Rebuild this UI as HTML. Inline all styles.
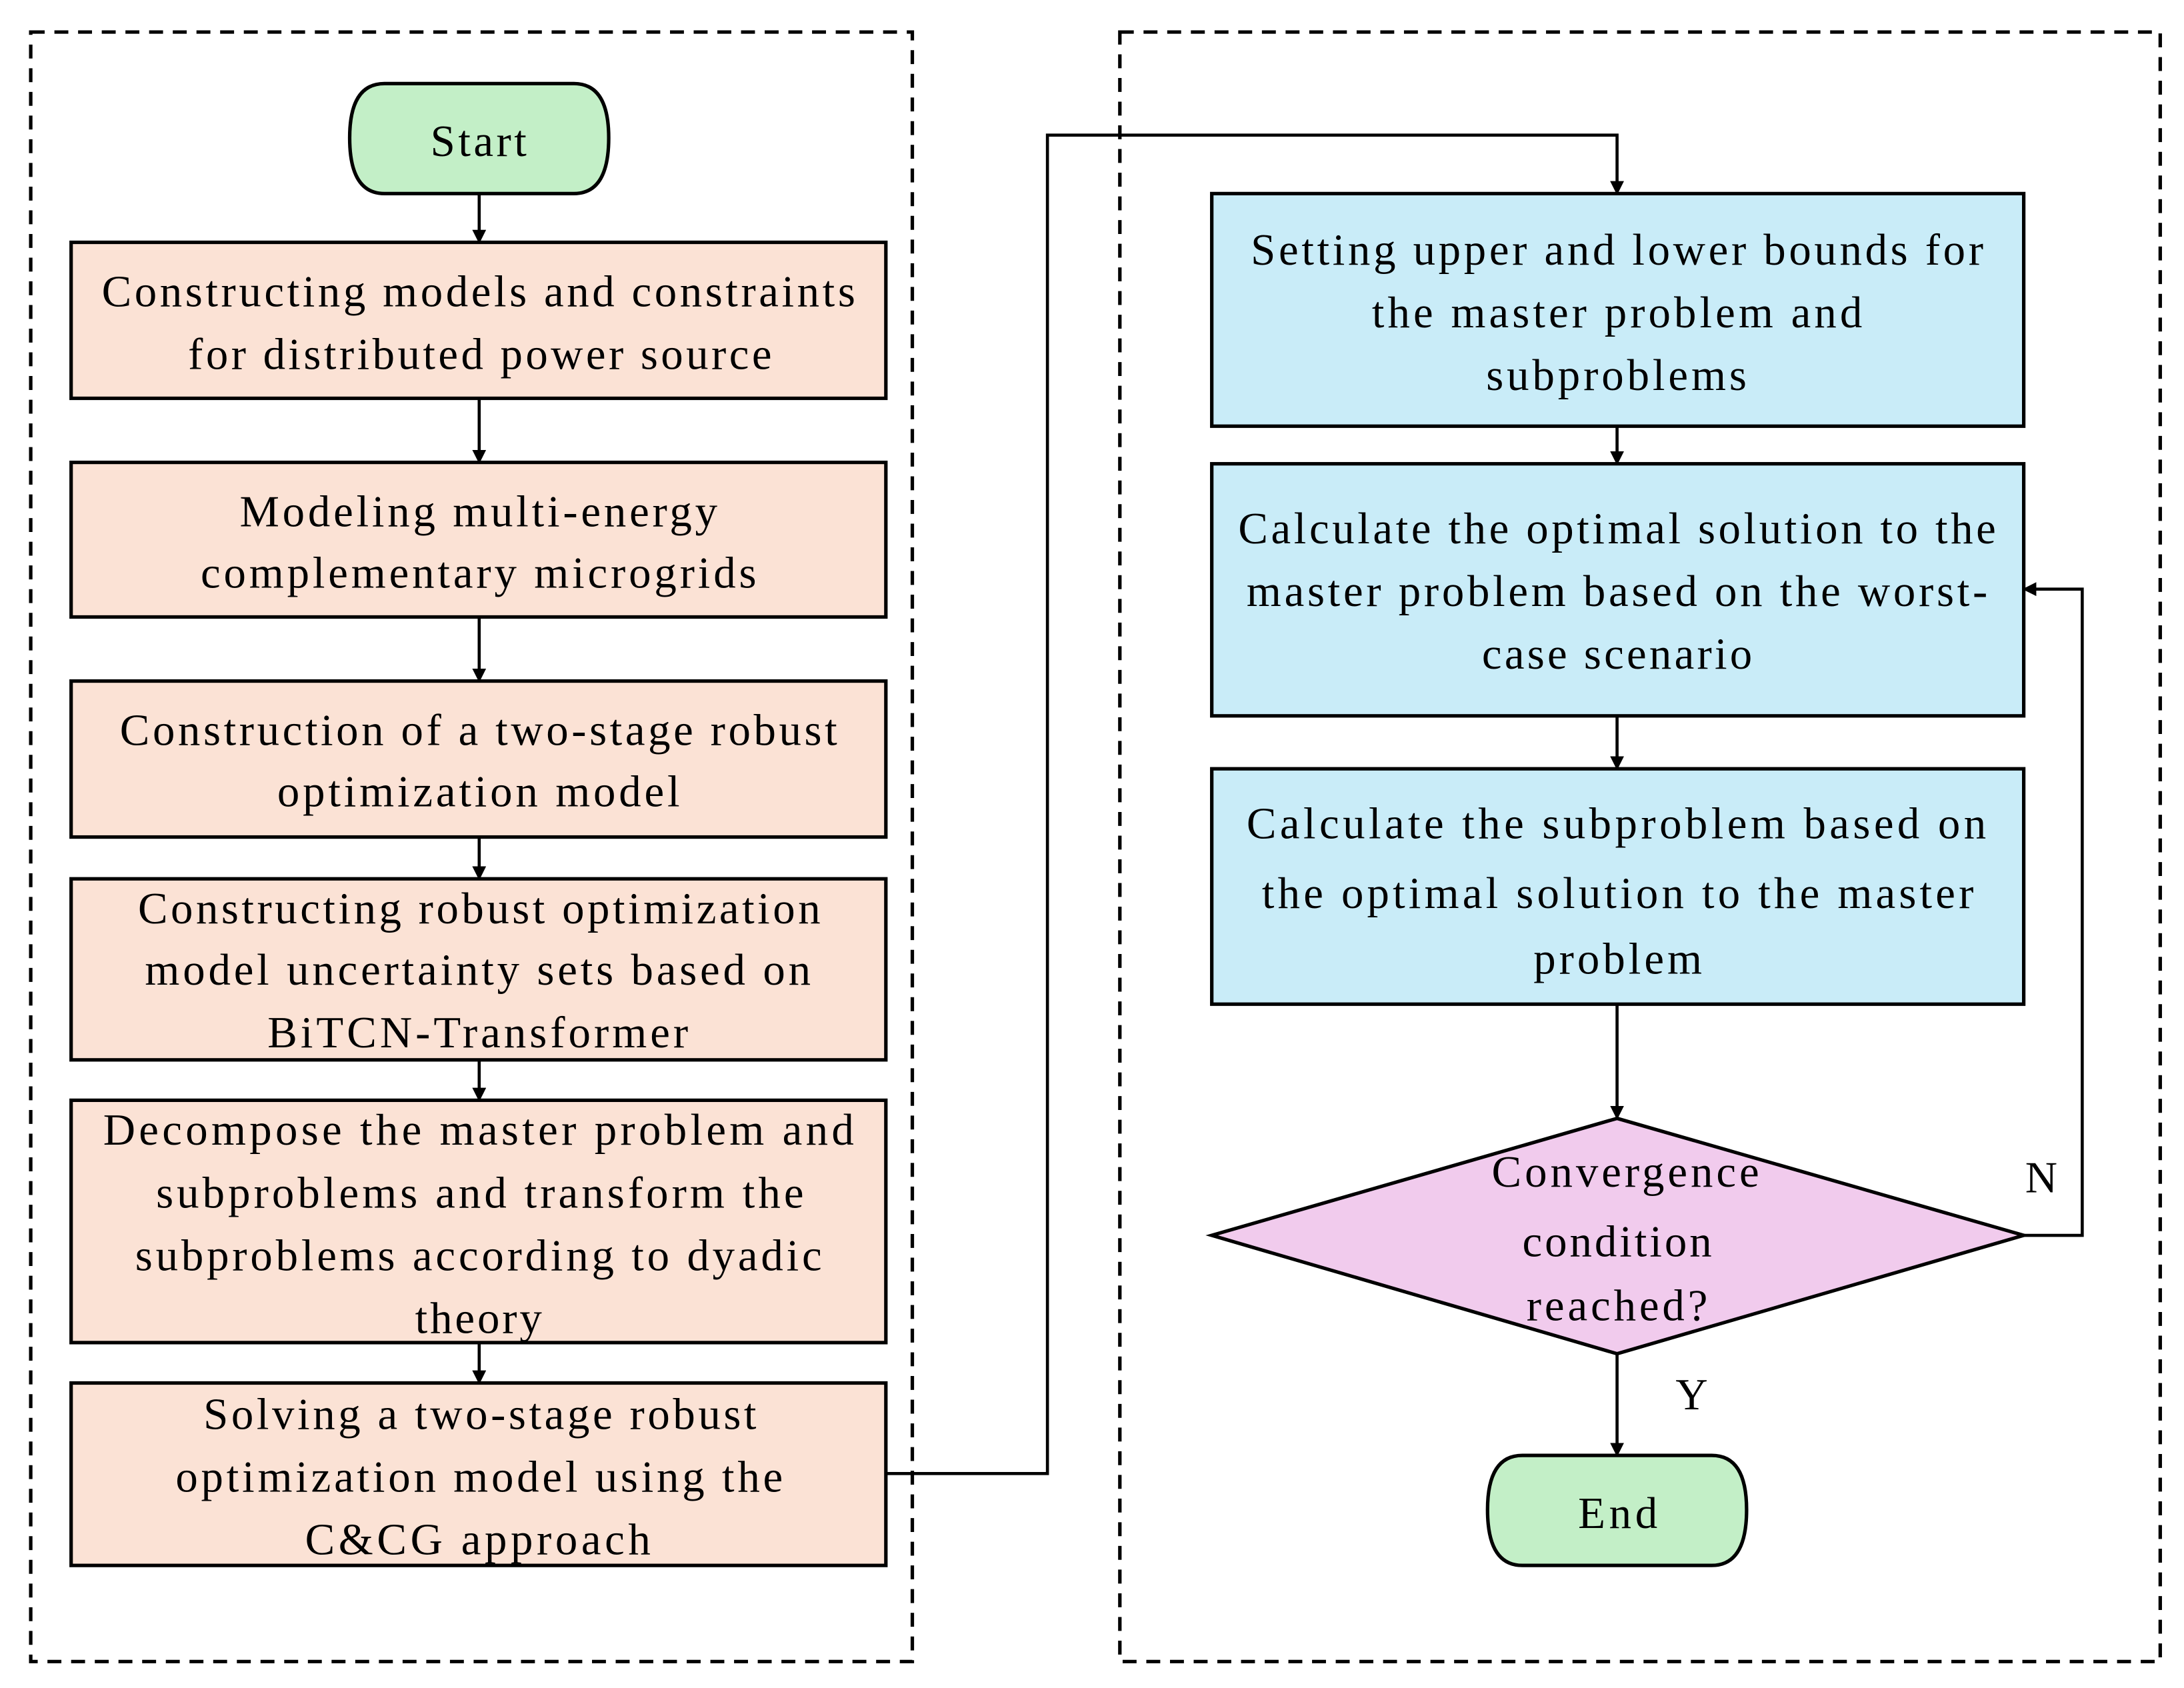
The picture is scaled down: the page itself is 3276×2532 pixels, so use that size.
<!DOCTYPE html>
<html><head><meta charset="utf-8"><style>html,body{margin:0;padding:0;background:#fff}svg{display:block}</style></head>
<body>
<svg width="3276" height="2532" viewBox="0 0 1568 1212" xmlns="http://www.w3.org/2000/svg" font-family="'Liberation Serif', serif" font-size="32">
<defs><marker id="a" markerWidth="10" markerHeight="10" refX="9" refY="5" orient="auto" markerUnits="userSpaceOnUse"><path d="M0,0 L10,5 L0,10 z" fill="#000"/></marker></defs>
<rect x="22" y="23" width="633" height="1170" fill="none" stroke="#000" stroke-width="2.5" stroke-dasharray="10,7"/>
<rect x="804" y="23" width="747" height="1170" fill="none" stroke="#000" stroke-width="2.5" stroke-dasharray="10,7"/>
<g stroke="#000" stroke-width="2.5">
<path d="M276,60 H412 Q437,60 437,99 Q437,139 412,139 H276 Q251,139 251,99 Q251,60 276,60 z" fill="#c3efc7"/>
<path d="M1093,1045 H1229 Q1254,1045 1254,1084 Q1254,1124 1229,1124 H1093 Q1068,1124 1068,1084 Q1068,1045 1093,1045 z" fill="#c3efc7"/>
<g fill="#fbe2d5">
<rect x="51" y="174" width="585" height="112"/>
<rect x="51" y="332" width="585" height="111"/>
<rect x="51" y="489" width="585" height="112"/>
<rect x="51" y="631" width="585" height="130"/>
<rect x="51" y="790" width="585" height="174"/>
<rect x="51" y="993" width="585" height="131"/>
</g>
<g fill="#c9ecf8">
<rect x="870" y="139" width="583" height="167"/>
<rect x="870" y="333" width="583" height="181"/>
<rect x="870" y="552" width="583" height="169"/>
</g>
<path d="M1161,803 L1453,887 L1161,972 L870,887 z" fill="#f1cbed"/>
</g>
<g stroke="#000" stroke-width="2.2" fill="none" marker-end="url(#a)">
<line x1="344" y1="139" x2="344" y2="174"/>
<line x1="344" y1="286" x2="344" y2="332"/>
<line x1="344" y1="443" x2="344" y2="489"/>
<line x1="344" y1="601" x2="344" y2="631"/>
<line x1="344" y1="761" x2="344" y2="790"/>
<line x1="344" y1="964" x2="344" y2="993"/>
<path d="M636,1058 H752 V97 H1161 V139"/>
<line x1="1161" y1="306" x2="1161" y2="333"/>
<line x1="1161" y1="514" x2="1161" y2="552"/>
<line x1="1161" y1="721" x2="1161" y2="803"/>
<line x1="1161" y1="972" x2="1161" y2="1045"/>
<path d="M1453,887 H1495 V423 H1453"/>
</g>
<g fill="#000" lengthAdjust="spacing">
<text x="309" y="112" textLength="69">Start</text>
<text x="1133" y="1097" textLength="57">End</text>
<text x="73" y="220" textLength="541">Constructing models and constraints</text>
<text x="135" y="265" textLength="419">for distributed power source</text>
<text x="172" y="378" textLength="343">Modeling multi-energy</text>
<text x="144" y="422" textLength="399">complementary microgrids</text>
<text x="86" y="535" textLength="515">Construction of a two-stage robust</text>
<text x="199" y="579" textLength="289">optimization model</text>
<text x="99" y="663" textLength="490">Constructing robust optimization</text>
<text x="104" y="707" textLength="478">model uncertainty sets based on</text>
<text x="192" y="752" textLength="302">BiTCN-Transformer</text>
<text x="74" y="822" textLength="539">Decompose the master problem and</text>
<text x="112" y="867" textLength="465">subproblems and transform the</text>
<text x="97" y="912" textLength="493">subproblems according to dyadic</text>
<text x="298" y="957" textLength="91">theory</text>
<text x="146" y="1026" textLength="397">Solving a two-stage robust</text>
<text x="126" y="1071" textLength="436">optimization model using the</text>
<text x="219" y="1116" textLength="248">C&amp;CG approach</text>
<text x="898" y="190" textLength="526">Setting upper and lower bounds for</text>
<text x="985" y="235" textLength="352">the master problem and</text>
<text x="1067" y="280" textLength="187">subproblems</text>
<text x="889" y="390" textLength="544">Calculate the optimal solution to the</text>
<text x="895" y="435" textLength="532">master problem based on the worst-</text>
<text x="1064" y="480" textLength="194">case scenario</text>
<text x="895" y="602" textLength="531">Calculate the subproblem based on</text>
<text x="906" y="652" textLength="511">the optimal solution to the master</text>
<text x="1101" y="699" textLength="121">problem</text>
<text x="1071" y="852" textLength="192">Convergence</text>
<text x="1093" y="902" textLength="136">condition</text>
<text x="1096" y="948" textLength="130">reached?</text>
<text x="1454" y="856">N</text>
<text x="1203" y="1012">Y</text>
</g>
</svg>
</body></html>
